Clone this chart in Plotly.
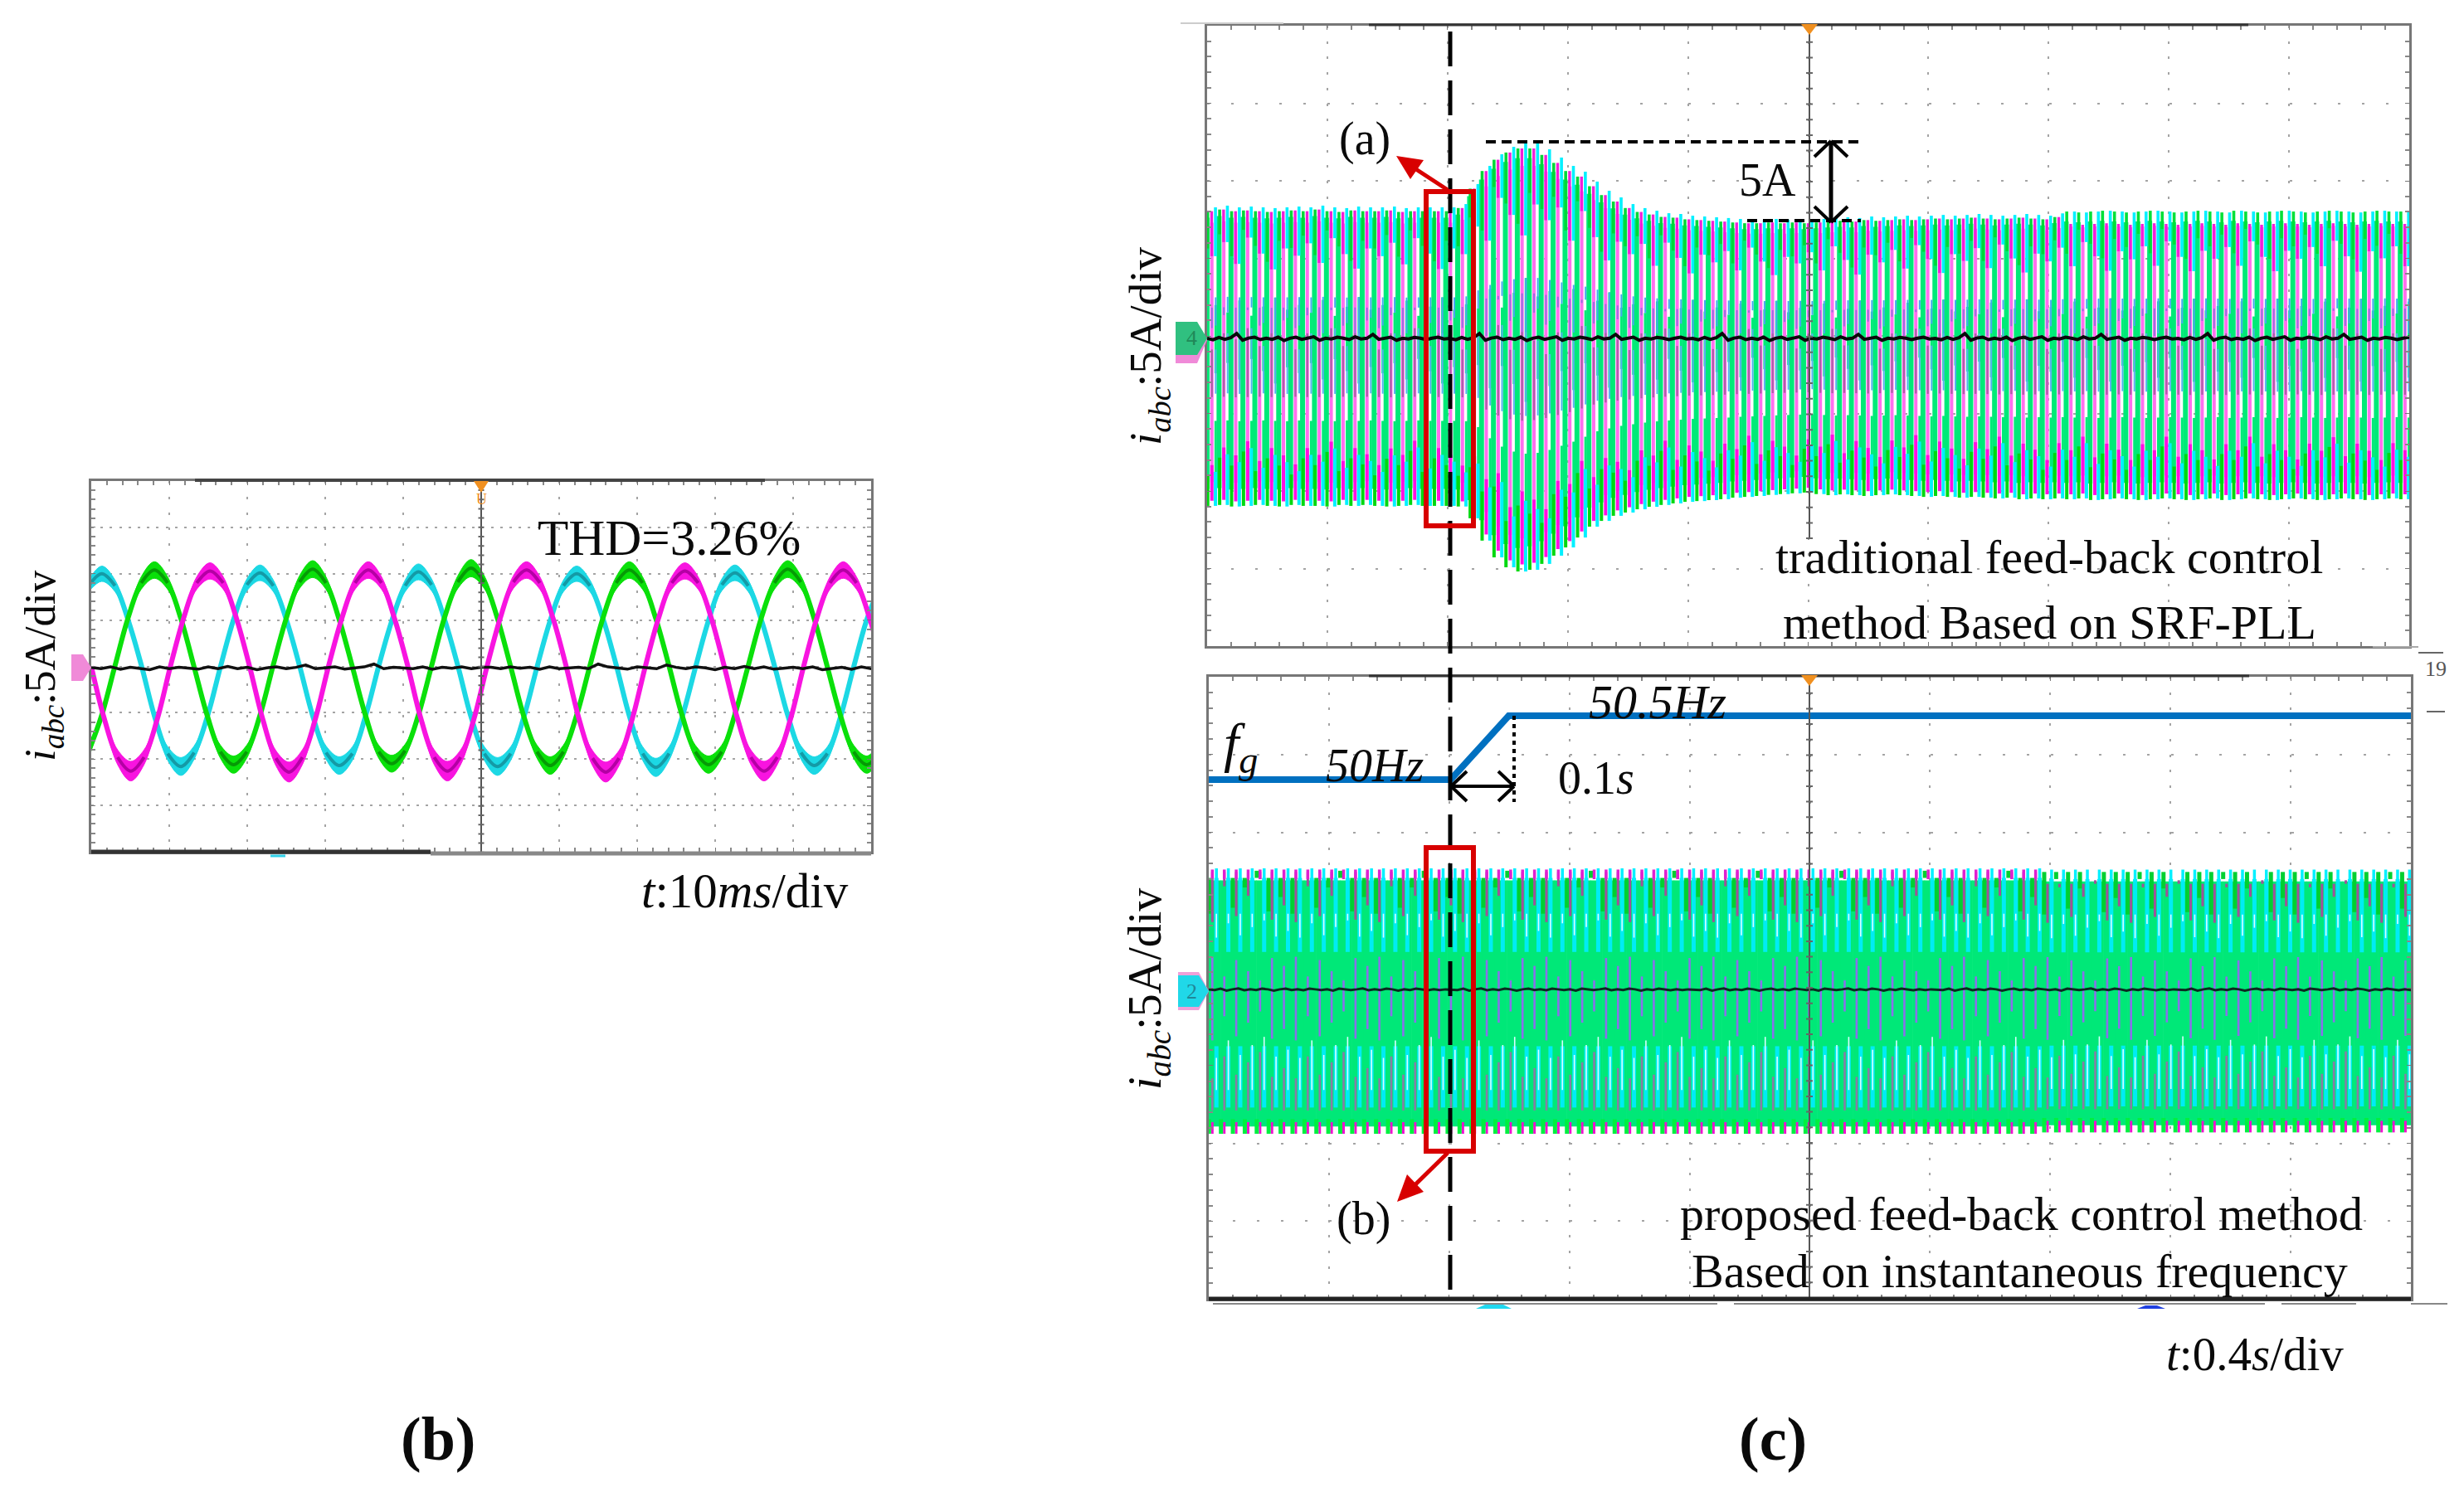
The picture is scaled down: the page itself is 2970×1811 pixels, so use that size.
import plotly.graph_objects as go

W, H = 2970, 1811
SERIF = "Liberation Serif"

# ---------- panel (b): steady-state currents, A against ms ----------
sample_ms = [0, 1.69, 3.38, 5.07, 6.77, 8.46, 10.15, 11.84, 13.53, 15.23, 16.92, 18.61,
             20.3, 21.99, 23.68, 25.37, 27.07, 28.76, 30.45, 32.14, 33.83, 35.53, 37.22, 38.91,
             40.6, 42.29, 43.98, 45.67, 47.37, 49.06, 50.75, 52.44, 54.13, 55.83, 57.52, 59.21,
             60.9, 62.59, 64.28, 65.97, 67.67, 69.36, 71.05, 72.74, 74.43, 76.13, 77.82, 79.51,
             81.2, 82.89, 84.58, 86.27, 87.97, 89.66, 91.35, 93.04, 94.73, 96.43, 98.12, 99.81, 101.5]
cyan_a = [8.7, 10.0, 8.7, 5.0, 0.1, -5.4, -9.4, -10.8, -9.3, -5.4, 0.0, 5.1,
          8.8, 10.1, 8.7, 5.0, 0.0, -5.4, -9.3, -10.7, -9.4, -5.3, 0.1, 5.0,
          8.7, 10.2, 8.8, 5.0, 0.0, -5.5, -9.4, -10.8, -9.4, -5.4, 0.0, 5.0,
          8.7, 10.0, 8.7, 5.1, 0.1, -5.4, -9.4, -10.9, -9.4, -5.4, -0.1, 5.0,
          8.8, 10.1, 8.7, 5.0, 0.0, -5.3, -9.3, -10.7, -9.4, -5.4, 0.0, 5.1, 8.7]
green_a = [-9.2, -5.3, 0.0, 5.2, 9.0, 10.4, 9.0, 5.2, 0.0, -5.3, -9.2, -10.6,
           -9.2, -5.3, 0.1, 5.2, 9.1, 10.5, 9.0, 5.1, 0.0, -5.3, -9.2, -10.5,
           -9.1, -5.3, 0.0, 5.3, 9.1, 10.6, 9.1, 5.2, 0.0, -5.4, -9.2, -10.7,
           -9.2, -5.3, 0.0, 5.2, 9.0, 10.4, 9.0, 5.2, 0.1, -5.3, -9.2, -10.6,
           -9.2, -5.2, 0.0, 5.2, 9.0, 10.5, 9.1, 5.2, 0.0, -5.3, -9.2, -10.6, -9.2]
magenta_a = [0.0, -5.7, -9.8, -11.3, -9.8, -5.7, 0.0, 5.2, 9.0, 10.3, 9.0, 5.2,
             0.0, -5.7, -9.9, -11.4, -9.8, -5.6, 0.1, 5.2, 9.0, 10.4, 9.0, 5.1,
             0.0, -5.7, -9.8, -11.3, -9.8, -5.7, 0.0, 5.2, 9.1, 10.4, 9.0, 5.2,
             0.0, -5.8, -9.9, -11.4, -9.9, -5.7, 0.0, 5.2, 9.0, 10.3, 9.0, 5.2,
             -0.1, -5.7, -9.8, -11.3, -9.8, -5.7, 0.0, 5.2, 9.0, 10.4, 9.0, 5.2, 0.0]
cyan_shift_ms, green_shift_ms = -0.34, -0.36
neutral_b = [-0.1, -0.25, -0.05, -0.3, -0.1, -0.2, -0.35, -0.05, -0.25, -0.1, -0.2, -0.3, -0.05, -0.25,
             0.0, -0.25, -0.1, -0.35, -0.15, -0.05, -0.25, -0.1, 0.15, -0.25, -0.15, -0.05, -0.3, -0.15,
             -0.05, 0.25, -0.25, -0.1, -0.2, -0.25, -0.05, -0.3, -0.1, -0.2, -0.05, -0.25, -0.1]

# ---------- panel (c) upper: envelope per displayed cycle, A ----------
upper_trad = [8.29, 8.4, 8.29, 8.34, 8.29, 8.24, 8.29, 8.34, 8.29, 8.4, 8.29, 8.24, 8.34, 8.29, 8.29, 8.34, 8.24,
              8.29, 8.29, 8.29, 8.29, 8.5, 9.79, 10.96, 11.71, 12.19, 12.46, 12.46, 12.03, 11.5, 10.96, 10.59,
              9.95, 9.36, 8.93, 8.5, 8.24, 8.07, 7.91, 7.86, 7.75, 7.7, 7.65, 7.6, 7.54, 7.49, 7.49, 7.54, 7.49,
              7.54, 7.49, 7.54, 7.6, 7.65, 7.6, 7.7, 7.65, 7.7, 7.75, 7.7, 7.75, 7.8, 7.75, 7.8, 7.86, 7.8, 7.75,
              7.8, 7.86, 7.8, 7.75, 7.9, 8.02, 7.96, 8.02, 8.07, 8.02, 7.96, 8.02, 8.07, 8.02, 7.96, 8.02, 8.07,
              8.02, 7.96, 8.07, 8.02, 7.96, 8.02, 8.07, 8.02, 7.96, 8.02, 8.07, 8.02, 7.96, 8.02, 8.07, 8.02, 8.02]
lower_trad = [-10.96, -10.9, -11.0, -10.96, -10.9, -10.96, -11.0, -10.9, -10.96, -10.96, -11.0, -10.9, -10.96,
              -10.9, -10.96, -11.0, -10.96, -10.9, -10.96, -10.96, -10.96, -11.0, -11.76, -13.2, -14.28, -14.92,
              -15.19, -15.08, -14.7, -14.17, -13.64, -13.0, -12.3, -11.93, -11.6, -11.39, -11.18, -11.02, -10.9,
              -10.8, -10.7, -10.65, -10.59, -10.53, -10.43, -10.38, -10.32, -10.25, -10.2, -10.15, -10.1, -10.2,
              -10.27, -10.22, -10.27, -10.32, -10.27, -10.22, -10.27, -10.32, -10.38, -10.32, -10.38, -10.43,
              -10.38, -10.43, -10.48, -10.43, -10.53, -10.48, -10.53, -10.48, -10.53, -10.48, -10.58, -10.53,
              -10.48, -10.53, -10.58, -10.53, -10.48, -10.53, -10.58, -10.53, -10.48, -10.58, -10.53, -10.48,
              -10.53, -10.58, -10.53, -10.48, -10.53, -10.58, -10.53, -10.48, -10.53, -10.58, -10.53, -10.48, -10.53]
neutral_trad = [-0.16, -0.25, -0.1, -0.22, -0.12, 0.15, -0.28, -0.14, -0.08, -0.24, -0.15, -0.22, -0.08, -0.3, -0.15,
                -0.08, -0.22, -0.14, -0.06, -0.28, -0.15, -0.2, -0.08, -0.15, -0.24, -0.06, -0.2, -0.15, 0.1, -0.22,
                -0.15, -0.08, -0.28, -0.15, -0.2, -0.1, -0.15, -0.24, -0.15, -0.08, -0.2]
beat_trad = [0.0, 0.10, -0.06, 0.14, 0.02, -0.10, 0.06]

# ---------- panel (c) lower ----------
upper_prop = [7.68] * 70 + [7.6] * 31
lower_prop = [-9.39] * 70 + [-9.3] * 31
neutral_prop = [-0.1, -0.14, -0.06, -0.18, -0.1, -0.04, -0.16, -0.1, -0.14, -0.06, -0.1, -0.18, -0.1, -0.06, -0.14,
                -0.1, -0.16, -0.06, -0.1, -0.14, -0.1, -0.18, -0.06, -0.1, -0.14, -0.1, -0.04, -0.16, -0.1, -0.14,
                -0.06, -0.1, -0.18, -0.1, -0.14, -0.06, -0.1, -0.16, -0.1, -0.14, -0.1]
beat_prop = [0.0, 0.30, 0.05, 0.22, 0.36, 0.02, 0.14]
fg_time_s = [0.0, 0.805, 0.998, 4.0]
fg_hz = [50.0, 50.0, 50.5, 50.5]

CYCLE_S = 0.0397


def px(x, y):
    return x / W, 1 - y / H


def level(f, u, l):
    return f * u if f >= 0 else -f * l


def bars(xa, ya, up, low, layers, beat):
    out = []
    for col, off, w, ft, fb, bt, first, last in layers:
        xs, ys = [], []
        for k, (u, l) in enumerate(zip(up, low)):
            if k < first or k > last:
                continue
            b = beat[k % len(beat)] * bt
            t = CYCLE_S * (k + off)
            if ft >= 0 and fb >= 0:      # cap on the positive side: only the inner end moves
                a, c = ft, fb + b
            elif ft <= 0 and fb <= 0:    # cap on the negative side: grows inwards only
                a, c = ft + abs(b), fb
            else:                        # span round the centre: both ends pull in
                a, c = ft - b, fb + b
            xs += [t, t, None]
            ys += [level(a, u, l), level(c, u, l), None]
        out.append(go.Scatter(x=xs, y=ys, xaxis=xa, yaxis=ya, mode="lines", hoverinfo="skip",
                              line=dict(color=col, width=w), showlegend=False))
    return out


traces = []

# panel (b)
for vals, shift, col, dark in [(cyan_a, cyan_shift_ms, "#1cd8e4", "#149aa6"),
                               (green_a, green_shift_ms, "#0ae00a", "#069a06"),
                               (magenta_a, 0.0, "#f814e0", "#b400a4")]:
    xs = [t + shift for t in sample_ms]
    hi = [v + 1.0 * (abs(v) / 11) ** 2 for v in vals]
    lo = [v - 1.0 * (abs(v) / 11) ** 2 for v in vals]
    traces.append(go.Scatter(x=xs + xs[::-1], y=hi + lo[::-1], mode="lines", fill="toself", fillcolor=col,
                             line=dict(color=col, width=1, shape="spline"), xaxis="x", yaxis="y",
                             hoverinfo="skip", showlegend=False))
    traces.append(go.Scatter(x=xs, y=vals, mode="lines", line=dict(color=col, width=6, shape="spline"),
                             xaxis="x", yaxis="y", hoverinfo="skip", showlegend=False))
    core = [v if abs(v) > 8 else None for v in vals]
    traces.append(go.Scatter(x=xs, y=core, mode="lines", line=dict(color=dark, width=4, shape="spline"),
                             xaxis="x", yaxis="y", hoverinfo="skip", showlegend=False))
traces.append(go.Scatter(x=[i * 1.25 for i in range(2 * len(neutral_b))], y=neutral_b + neutral_b[::-1], mode="lines",
                         line=dict(color="#111111", width=3.5), xaxis="x", yaxis="y",
                         hoverinfo="skip", showlegend=False))

END = 999
# panel (c) upper
layers_trad = [
    ("#00ea78", 0.00, 6.0, .92, -.90, 0, 0, END),
    ("#ff70ee", 0.40, 4.0, .88, -.86, 0, 0, END),
    ("#00ea78", 0.72, 3.0, .24, -.22, .6, 0, END),
    ("#00ea78", 0.72, 3.0, -.50, -.85, 0, 0, END),
    ("#00f0ff", 0.70, 3.6, 1.0, .62, 1, 0, END),
    ("#f020d8", 0.38, 3.4, .97, .62, 1, 0, 71),
    ("#f020d8", 0.38, 3.4, .90, .62, 1, 72, END),
    ("#00d838", 0.05, 3.6, .97, .68, 1, 0, 71),
    ("#00e038", 0.05, 3.6, 1.0, .72, 1, 72, END),
    ("#a070e0", 0.40, 2.2, .22, .06, 1, 0, END),
    ("#48a8f0", 0.72, 2.0, .30, .08, 1, 0, END),
    ("#b060a8", 0.40, 2.4, -.08, -.36, 1, 0, END),
    ("#58b0f0", 0.72, 2.0, -.08, -.34, 1, 0, END),
    ("#ff10e0", 0.40, 4.0, -.76, -.97, 1, 0, END),
    ("#00f0ff", 0.70, 4.0, -.80, -1.0, 1, 0, END),
    ("#00d810", 0.05, 4.0, -.82, -1.0, 1, 0, END),
]
traces += bars("x2", "y2", upper_trad, lower_trad, layers_trad, beat_trad)
traces.append(go.Scatter(x=[i * 0.0197 for i in range(5 * len(neutral_trad))], y=neutral_trad * 5, mode="lines",
                         line=dict(color="#0a0a0a", width=4), xaxis="x2", yaxis="y2",
                         hoverinfo="skip", showlegend=False))

# panel (c) lower
layers_prop = [
    ("#00e878", 0.50, 15.0, .90, -.95, 0, 0, END),
    ("#00ecf4", 0.64, 5.0, .92, .30, 0, 0, END),
    ("#00ecf4", 0.64, 5.0, -.40, -.82, 0, 0, END),
    ("#d8ffff", 0.64, 1.6, .62, .42, .4, 0, END),
    ("#d8ffff", 0.64, 1.6, -.48, -.70, .4, 0, END),
    ("#00d030", 0.02, 5.0, .92, .62, 1, 0, 69),
    ("#00d030", 0.02, 5.0, .98, .62, 1, 70, END),
    ("#a0509c", 0.30, 3.0, .97, .55, 1, 0, 69),
    ("#a0509c", 0.30, 3.0, .88, .55, 1, 70, END),
    ("#8a70ea", 0.30, 2.6, .26, -.36, .55, 0, END),
    ("#8a7aa8", 0.30, 2.6, -.62, -.84, .5, 0, END),
    ("#00f0ff", 0.64, 3.5, 1.0, .90, 0, 0, END),
    ("#e020d0", 0.30, 3.5, .99, .91, 0, 0, 69),
    ("#f010d0", 0.30, 3.0, -.92, -1.0, 0, 0, END),
    ("#00f040", 0.02, 5.0, -.90, -1.0, 0, 0, END),
]
traces += bars("x3", "y3", upper_prop, lower_prop, layers_prop, beat_prop)
traces.append(go.Scatter(x=[i * 0.0197 for i in range(5 * len(neutral_prop))], y=neutral_prop * 5, mode="lines",
                         line=dict(color="#0a2a20", width=3), xaxis="x3", yaxis="y3",
                         hoverinfo="skip", showlegend=False))
traces.append(go.Scatter(x=fg_time_s, y=fg_hz, mode="lines", line=dict(color="#0070c0", width=8),
                         xaxis="x3", yaxis="y4", hoverinfo="skip", showlegend=False))


def xax(l, r, dtick, pat, rng, anchor):
    return dict(domain=[l / W, r / W], range=rng, anchor=anchor, dtick=dtick, tick0=0,
                showgrid=True, griddash=pat, gridcolor="#a4a4a4", gridwidth=2, zeroline=False,
                showline=True, linecolor="#777777", linewidth=3, mirror="ticks", ticks="inside",
                ticklen=5, tickcolor="#777777", showticklabels=False,
                minor=dict(dtick=dtick / 5, ticks="inside", ticklen=5, tickcolor="#888888", tickwidth=2))


def yax(t, b, dtick, pat, rng, anchor):
    return dict(domain=[1 - b / H, 1 - t / H], range=rng, anchor=anchor, dtick=dtick, tick0=0,
                showgrid=True, griddash=pat, gridcolor="#a4a4a4", gridwidth=2, zeroline=False,
                showline=True, linecolor="#777777", linewidth=3, mirror="ticks", ticks="inside",
                ticklen=5, tickcolor="#777777", showticklabels=False,
                minor=dict(dtick=dtick / 5, ticks="inside", ticklen=5, tickcolor="#888888", tickwidth=2))


def seg(x0, y0, x1, y1, color="#000000", width=3, dash=None, layer="above"):
    a, b = px(x0, y0), px(x1, y1)
    ln = dict(color=color, width=width)
    if dash:
        ln["dash"] = dash
    return dict(type="line", xref="paper", yref="paper", x0=a[0], y0=a[1], x1=b[0], y1=b[1], line=ln, layer=layer)


def rect(x0, y0, x1, y1, color, width):
    a, b = px(x0, y0), px(x1, y1)
    return dict(type="rect", xref="paper", yref="paper", x0=a[0], y0=a[1], x1=b[0], y1=b[1],
                line=dict(color=color, width=width), layer="above")


def poly(pts, fill, line=None, width=0):
    d = "M " + " L ".join(f"{px(*p)[0]:.5f},{px(*p)[1]:.5f}" for p in pts) + " Z"
    return dict(type="path", xref="paper", yref="paper", path=d, fillcolor=fill,
                line=dict(color=line or fill, width=width), layer="above")


shapes = [
    # crosshair centres
    seg(580, 590, 580, 1027, "#555555", 2),
    seg(580, 590, 580, 1027, "#666666", 7, "2px,9.2px"),
    seg(2181, 31, 2181, 650, "#555555", 2),
    seg(2181, 31, 2181, 650, "#666666", 8, "2px,16.7px"),
    seg(2181, 816, 2181, 1566, "#555555", 2),
    seg(2181, 816, 2181, 1566, "#666666", 8, "2px,16.7px"),
    # scope frame strips
    seg(235, 579, 922, 579, "#444444", 4),
    seg(110, 1027, 519, 1027, "#333333", 5),
    seg(519, 1029, 1050, 1029, "#888888", 5),
    seg(326, 1032, 344, 1032, "#30d0e8", 3),
    seg(1650, 30, 2710, 30, "#333333", 3),
    seg(1423, 28, 1547, 28, "#cccccc", 2),
    seg(1650, 815, 2711, 815, "#333333", 3),
    seg(1457, 1566, 2906, 1566, "#222222", 5),
    seg(2906, 1572, 2950, 1572, "#888888", 2),
    seg(2860, 780, 2915, 780, "#aaaaaa", 2),
    seg(2915, 787, 2945, 787, "#666666", 2),
    seg(2925, 858, 2947, 858, "#666666", 2),
    seg(1462, 1572, 2070, 1572, "#888888", 2),
    seg(2090, 1572, 2730, 1572, "#888888", 2),
    seg(2750, 1572, 2840, 1572, "#888888", 2),
    # soft-key stubs
    poly([(1779, 1578), (1790, 1573), (1812, 1573), (1822, 1578)], "#20d8f0"),
    poly([(2576, 1578), (2586, 1574), (2600, 1574), (2610, 1578)], "#2040e0"),
    # channel markers
    poly([(86, 789), (100, 789), (110, 805), (100, 821), (86, 821)], "#f08ad8"),
    poly([(1417, 392), (1443, 392), (1455, 410), (1443, 438), (1417, 438)], "#f08ad8"),
    poly([(1417, 388), (1443, 388), (1455, 408), (1443, 428), (1417, 428)], "#30c080"),
    poly([(1420, 1172), (1445, 1172), (1457, 1195), (1445, 1218), (1420, 1218)], "#f0a0d8"),
    poly([(1420, 1176), (1445, 1176), (1457, 1195), (1445, 1214), (1420, 1214)], "#20d8e8"),
    poly([(571, 580), (589, 580), (580, 594)], "#f09020"),
    poly([(2171, 29), (2191, 29), (2181, 42)], "#f09020"),
    poly([(2171, 814), (2191, 814), (2181, 827)], "#f09020"),
    # event line and red boxes
    seg(1748, 38, 1748, 1558, "#000000", 5, "42px,17px"),
    rect(1719, 231, 1776, 634, "#d80000", 6),
    rect(1719, 1022, 1776, 1388, "#d80000", 6),
    seg(1745, 229, 1696, 197, "#d80000", 5),
    poly([(1683, 188), (1716, 193), (1700, 216)], "#d80000"),
    seg(1745, 1390, 1696, 1438, "#d80000", 5),
    poly([(1684, 1449), (1716, 1437), (1696, 1416)], "#d80000"),
    # 5A measurement
    seg(1791, 171, 2243, 171, "#000000", 4, "12px,7px"),
    seg(2106, 266, 2243, 266, "#000000", 4, "12px,7px"),
    seg(2207, 172, 2207, 266, "#000000", 5),
    seg(2207, 170, 2187, 189, "#000000", 4), seg(2207, 170, 2227, 189, "#000000", 4),
    seg(2207, 268, 2187, 249, "#000000", 4), seg(2207, 268, 2227, 249, "#000000", 4),
    # 0.1 s measurement
    seg(1825, 863, 1825, 967, "#000000", 4, "5px,5px"),
    seg(1749, 948, 1825, 948, "#000000", 4),
    seg(1749, 948, 1768, 930, "#000000", 4), seg(1749, 948, 1768, 966, "#000000", 4),
    seg(1825, 948, 1806, 930, "#000000", 4), seg(1825, 948, 1806, 966, "#000000", 4),
]


def note(x, y, text, size, angle=0, color="#0a0a0a", anchor="center"):
    a = px(x, y)
    return dict(xref="paper", yref="paper", x=a[0], y=a[1], text=text, showarrow=False, textangle=angle,
                xanchor=anchor, yanchor="middle", font=dict(family=SERIF, size=size, color=color))


ILABEL = "<i>i<sub>abc</sub></i>:5A/div"
annotations = [
    note(52, 803, ILABEL, 53, -90),
    note(807, 648, "THD=3.26%", 61),
    note(898, 1074, "<i>t</i>:10<i>ms</i>/div", 59),
    note(1384, 418, ILABEL, 55, -90),
    note(1645, 168, "(a)", 56),
    note(2130, 217, "5A", 56),
    note(2470, 671, "traditional feed-back control", 58),
    note(2470, 750, "method Based on SRF-PLL", 58),
    note(1384, 1193, ILABEL, 56, -90),
    note(1496, 900, "<i>f<sub>g</sub></i>", 66),
    note(1657, 923, "<i>50Hz</i>", 56),
    note(1998, 846, "<i>50.5Hz</i>", 58),
    note(1924, 938, "0.1<i>s</i>", 56),
    note(1643, 1469, "(b)", 56),
    note(2436, 1463, "proposed feed-back control method", 58),
    note(2434, 1532, "Based on instantaneous frequency", 58),
    note(2718, 1632, "<i>t</i>:0.4<i>s</i>/div", 57),
    note(528, 1735, "<b>(b)</b>", 74),
    note(2137, 1735, "<b>(c)</b>", 74),
    note(2936, 806, "19", 26, 0, "#555555"),
    note(580, 602, "U", 18, 0, "#f09020"),
    note(1436, 408, "4", 26, 0, "#208858"),
    note(1436, 1195, "2", 26, 0, "#208898"),
]

layout = dict(
    width=W, height=H, margin=dict(l=0, r=0, t=0, b=0), autosize=False,
    paper_bgcolor="white", plot_bgcolor="white", showlegend=False,
    xaxis=xax(110, 1050, 10, "3px,15.8px", [0, 100], "y"),
    yaxis=yax(580, 1027, 5, "3px,8.2px", [-20, 20], "x"),
    xaxis2=xax(1455, 2904, 0.4, "3px,15.7px", [0, 4], "y2"),
    yaxis2=yax(31, 779, 5, "3px,26px", [-20, 20], "x2"),
    xaxis3=xax(1457, 2906, 0.4, "3px,15.7px", [0, 4], "y3"),
    yaxis3=yax(816, 1566, 5, "3px,26px", [-20, 20], "x3"),
    yaxis4=dict(domain=[1 - 1566 / H, 1 - 816 / H], range=[45.935, 50.805], overlaying="y3", anchor="x3",
                side="right", visible=False),
    shapes=shapes, annotations=annotations,
)

fig = go.Figure(data=traces, layout=layout)
fig.write_html("out.html", config={"displayModeBar": False},
               post_script="document.body.style.margin='0';document.body.style.overflow='hidden';")
